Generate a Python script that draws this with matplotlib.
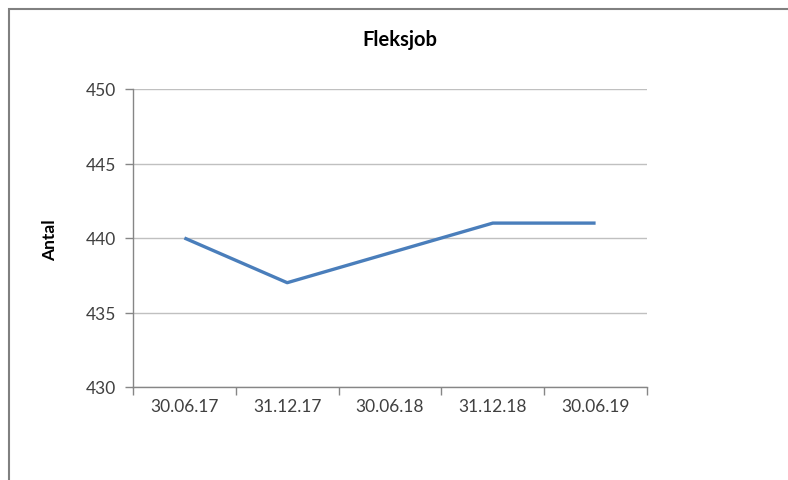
import matplotlib
matplotlib.use("Agg")
import matplotlib.pyplot as plt
from matplotlib.patches import Rectangle

dates = ["30.06.17", "31.12.17", "30.06.18", "31.12.18", "30.06.19"]
antal = [440, 437, 439, 441, 441]
yticks = [430, 435, 440, 445, 450]

plt.rcParams['font.family'] = ['Lato', 'DejaVu Sans']

fig = plt.figure(figsize=(7.88, 4.81), dpi=100)
ax = fig.add_axes([133/788, 1-388/481, (647-133)/788, (388-90)/481])

x = list(range(len(dates)))
ax.plot(x, antal, color='#4a7ebb', linewidth=2.4, solid_capstyle='butt')

ax.set_xlim(-0.5, len(dates) - 0.5)
ax.set_ylim(430, 450)
ax.set_yticks(yticks)
ax.set_yticklabels([str(v) for v in yticks], fontsize=12.5, color='#404040')
ax.set_xticks(x)
ax.set_xticklabels(dates, fontsize=12.5, color='#404040')
ax.tick_params(axis='x', length=0, pad=8)
ax.set_xticks([i - 0.5 for i in range(len(dates) + 1)], minor=True)
ax.tick_params(axis='x', which='minor', length=6, color='#868686', width=1)
ax.tick_params(axis='y', length=6, color='#868686', width=1, pad=6)

ax.grid(axis='y', color='#c0c0c0', linewidth=1)
ax.set_axisbelow(True)
for s in ['top', 'right']:
    ax.spines[s].set_visible(False)
for s in ['left', 'bottom']:
    ax.spines[s].set_color('#868686')
    ax.spines[s].set_linewidth(1)

fig.text(400/788, 1-40/481, 'Fleksjob', ha='center', va='center',
         fontsize=14.5, fontweight='bold')
fig.text(50/788, 1-240/481, 'Antal', ha='center', va='center',
         rotation=90, fontsize=12.5, fontweight='bold')

fig.patches.append(Rectangle((9/788, -0.1), 1.2, 1.1 - 10/481, fill=False,
                             edgecolor='#808080', linewidth=1.5,
                             transform=fig.transFigure, figure=fig))

fig.savefig('out.png', dpi=100)
